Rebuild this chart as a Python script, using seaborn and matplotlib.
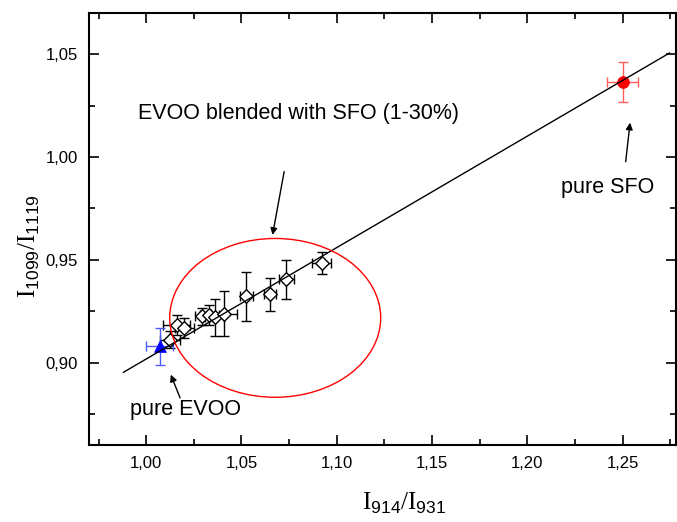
import numpy as np
import pandas as pd
import matplotlib
matplotlib.use('Agg')
import matplotlib.pyplot as plt
import seaborn as sns
from matplotlib.patches import Ellipse
from matplotlib.ticker import MultipleLocator, FuncFormatter

# ---- data ----
blend_x = [1.0125, 1.0160, 1.0199, 1.0295, 1.0330, 1.0360, 1.0409, 1.0526, 1.0650, 1.0736, 1.0920]
blend_y = [0.9112, 0.9184, 0.9168, 0.9225, 0.9232, 0.9222, 0.9238, 0.9322, 0.9333, 0.9406, 0.9484]
blend_xerr = [0.005, 0.007, 0.005, 0.004, 0.005, 0.005, 0.007, 0.0035, 0.003, 0.004, 0.005]
blend_yerr = [0.004, 0.005, 0.005, 0.004, 0.005, 0.009, 0.011, 0.012, 0.008, 0.0095, 0.0055]

evoo_x, evoo_y, evoo_xerr, evoo_yerr = [1.0071], [0.9079], [0.007], [0.0089]
sfo_x, sfo_y, sfo_xerr, sfo_yerr = [1.2500], [1.0364], [0.0083], [0.0097]

fit_intercept = 0.3601
fit_slope = 0.5417
fit_x = np.array([0.988, 1.2747])

x_ticks = [1.00, 1.05, 1.10, 1.15, 1.20, 1.25]
y_ticks = [0.90, 0.95, 1.00, 1.05]

# ---- style ----
sns.set_style('ticks')
plt.rcParams['font.family'] = ['Liberation Sans', 'DejaVu Sans']
plt.rcParams['mathtext.fontset'] = 'custom'
plt.rcParams['mathtext.rm'] = 'Liberation Serif'
plt.rcParams['mathtext.sf'] = 'Liberation Sans'
plt.rcParams['text.color'] = 'black'
plt.rcParams['axes.labelcolor'] = 'black'

fig = plt.figure(figsize=(6.77, 5.22), dpi=100)
ax = fig.add_axes([89 / 677, 77 / 522, 587 / 677, 432 / 522])

# error bars
ax.errorbar(blend_x, blend_y, xerr=blend_xerr, yerr=blend_yerr, fmt='none',
            ecolor='black', elinewidth=1, capsize=3.5, capthick=1, zorder=2)
ax.errorbar(evoo_x, evoo_y, xerr=evoo_xerr, yerr=evoo_yerr, fmt='none',
            ecolor='#4d5cff', elinewidth=1, capsize=3.5, capthick=1, zorder=2)
ax.errorbar(sfo_x, sfo_y, xerr=sfo_xerr, yerr=sfo_yerr, fmt='none',
            ecolor='#ff5c5c', elinewidth=1, capsize=3.5, capthick=1, zorder=2)

df = pd.DataFrame({'x': blend_x, 'y': blend_y})
sns.scatterplot(data=df, x='x', y='y', marker='D', s=48, color='white',
                edgecolor='black', linewidth=1, ax=ax, zorder=3)
sns.scatterplot(x=evoo_x, y=evoo_y, marker='^', s=70, color='#0000ff',
                edgecolor='#0000ff', ax=ax, zorder=3)
sns.scatterplot(x=sfo_x, y=sfo_y, marker='o', s=70, color='#ff0000',
                edgecolor='#ff0000', ax=ax, zorder=3)

# linear fit
sns.lineplot(x=fit_x, y=fit_intercept + fit_slope * fit_x, color='black', lw=1,
             ax=ax, zorder=4)

# red ellipse around the blends
ax.add_patch(Ellipse((1.0677, 0.9218), width=0.1107, height=0.0772,
                     fill=False, edgecolor='red', lw=1, zorder=5))

# annotations
arrow = dict(arrowstyle='-|>', color='black', lw=1, mutation_scale=10, shrinkA=0, shrinkB=0)
ax.text(0.9956, 1.021, 'EVOO blended with SFO (1-30%)', fontsize=15.5, ha='left', va='center')
ax.annotate('', xy=(1.0663, 0.9621), xytext=(1.0724, 0.9929), arrowprops=arrow)
ax.text(1.2422, 0.9854, 'pure SFO', fontsize=15.5, ha='center', va='center')
ax.annotate('', xy=(1.2539, 1.0167), xytext=(1.2516, 0.9977), arrowprops=arrow)
ax.text(1.0207, 0.8772, 'pure EVOO', fontsize=15.5, ha='center', va='center')
ax.annotate('', xy=(1.0129, 0.8942), xytext=(1.0178, 0.8829), arrowprops=arrow)

# axes
ax.set_xlim(0.97, 1.278)
ax.set_ylim(0.86, 1.07)
ax.set_xticks(x_ticks)
ax.set_yticks(y_ticks)
ax.xaxis.set_minor_locator(MultipleLocator(0.025))
ax.yaxis.set_minor_locator(MultipleLocator(0.025))
fmt = FuncFormatter(lambda v, p: f'{v:.2f}'.replace('.', ','))
ax.xaxis.set_major_formatter(fmt)
ax.yaxis.set_major_formatter(fmt)
ax.tick_params(which='both', direction='in', top=True, right=True, width=1.2,
               labelsize=12, color='black', labelcolor='black')
ax.tick_params(which='major', length=7, pad=8)
ax.tick_params(which='minor', length=4)
for s in ax.spines.values():
    s.set_visible(True)
    s.set_linewidth(1.5)
    s.set_color('black')

ax.set_xlabel(r'$\mathrm{I}_{\mathsf{914}}/\mathrm{I}_{\mathsf{931}}$', fontsize=18)
ax.set_ylabel(r'$\mathrm{I}_{\mathsf{1099}}/\mathrm{I}_{\mathsf{1119}}$', fontsize=18)
ax.xaxis.set_label_coords(0.537, -0.105)
ax.yaxis.set_label_coords(-0.08, 0.46)

fig.savefig('out.png', dpi=100)
